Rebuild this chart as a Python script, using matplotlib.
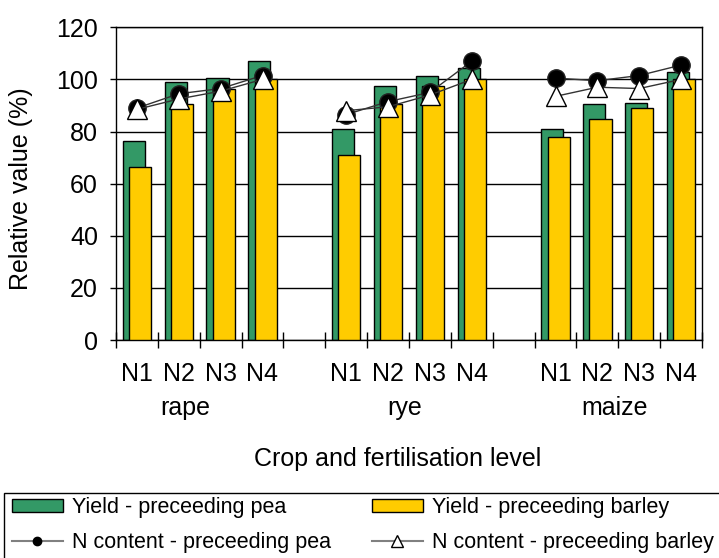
import matplotlib.pyplot as plt
from matplotlib.lines import Line2D
from matplotlib.patches import Patch, Rectangle
import numpy as np

plt.rcParams['font.family'] = ['Liberation Sans', 'DejaVu Sans']

crops = ['rape', 'rye', 'maize']
levels = ['N1', 'N2', 'N3', 'N4']

# yield, relative (%)
yield_pea = [[76.5, 99, 100.5, 107], [81, 97.5, 101.5, 104.5], [81, 90.5, 91, 103]]
yield_barley = [[66.5, 90.5, 96.5, 100], [71, 90.5, 97.5, 100], [78, 85, 89, 100]]
# N content, relative (%)
n_pea = [[89, 94.5, 96.5, 101.5], [86.5, 91.5, 95, 107], [100.5, 99.5, 101.5, 105.5]]
n_barley = [[88.5, 92.5, 95.5, 100], [88, 89.5, 94, 100], [93.5, 97, 96.5, 100]]

green = '#339966'
yellow = '#FFCC00'

W, H = 719, 558
fig = plt.figure(figsize=(W/100, H/100), dpi=100)
ax = fig.add_axes([116/W, 1-340/H, 586/W, 312.7/H])

fs = 18
xpos_all = []
for g in range(len(crops)):
    x = np.arange(4) + g*5
    xpos_all.extend(x)
    ax.bar(x - 0.075, yield_pea[g], width=0.53, color=green, edgecolor='black', lw=1, zorder=2)
    ax.bar(x + 0.075, yield_barley[g], width=0.53, color=yellow, edgecolor='black', lw=1, zorder=3)
    ax.plot(x, n_pea[g], color='#333333', lw=1, marker='o', ms=12.5,
            mfc='black', mec='#222222', zorder=4)
    ax.plot(x, n_barley[g], color='#333333', lw=1, marker='^', ms=14,
            mfc='white', mec='black', zorder=5)

ax.set_xlim(-0.5, 13.5)
ax.set_ylim(0, 120)
ax.set_yticks(range(0, 121, 20))
ax.yaxis.grid(True, color='black', lw=1)
ax.set_axisbelow(True)
ax.tick_params(axis='y', direction='out', length=4, width=1, labelsize=fs, pad=9)

ax.set_xticks(xpos_all)
ax.set_xticklabels(levels*3, fontsize=fs)
ax.set_xticks(np.arange(-0.5, 14, 1), minor=True)
ax.tick_params(axis='x', which='major', length=0, pad=16)
ax.tick_params(axis='x', which='minor', direction='inout', length=12, width=1)
for s in ax.spines.values():
    s.set_linewidth(1)
    s.set_color('black')

tr = ax.get_xaxis_transform()
for name, xc in zip(crops, [1.16, 6.4, 11.4]):
    ax.text(xc, -(415-340)/312.7, name, transform=tr, ha='center', va='baseline', fontsize=fs)

fig.text(398/W, 1-466/H, 'Crop and fertilisation level', ha='center', va='baseline', fontsize=fs)
fig.text(21/W, 1-188.5/H, 'Relative value (%)', rotation=90, ha='center', va='center', fontsize=fs)

# legend frame runs off the figure edge
fig.patches.append(Rectangle((4/W, -0.1), 1.0, 0.1 + (H-493)/H, transform=fig.transFigure,
                             fill=False, edgecolor='black', lw=1))
handles = [
    Patch(facecolor=green, edgecolor='black', label='Yield - preceeding pea'),
    Line2D([], [], color='#808080', lw=1.5, marker='o', ms=6, mfc='black', mec='black',
           label='N content - preceeding pea'),
    Patch(facecolor=yellow, edgecolor='black', label='Yield - preceeding barley'),
    Line2D([], [], color='#808080', lw=1.5, marker='^', ms=8, mfc='white', mec='black',
           label='N content - preceeding barley'),
]
fig.legend(handles=handles, ncol=2, loc='upper left', bbox_to_anchor=(12/W, 1-497/H),
           frameon=False, fontsize=15.5, handlelength=2.35, handleheight=0.55,
           handletextpad=0.45, columnspacing=1.9, borderpad=0, labelspacing=0.65,
           borderaxespad=0)

fig.savefig('out.png', dpi=100)
